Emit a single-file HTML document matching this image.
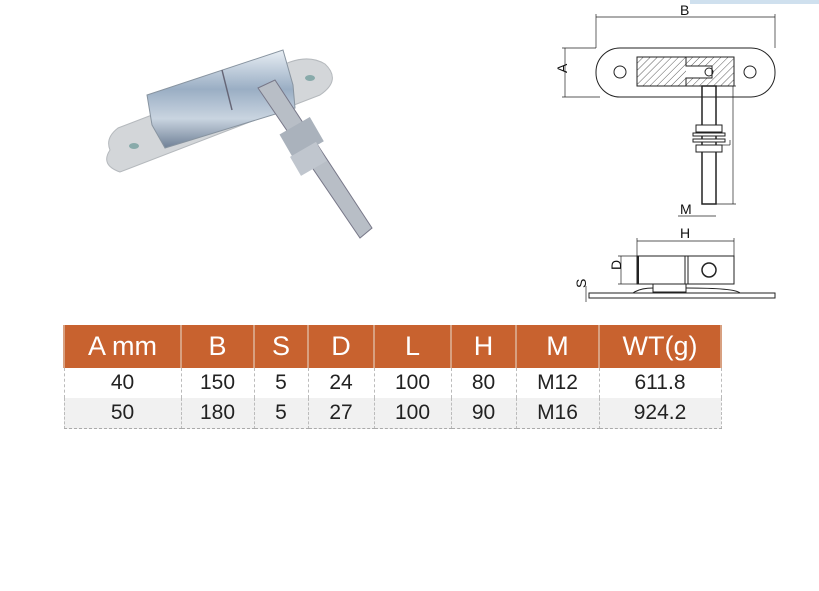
<!DOCTYPE html>
<html><head><meta charset="utf-8"><style>
body{margin:0;width:819px;height:591px;background:#fff;position:relative;overflow:hidden;font-family:"Liberation Sans",sans-serif}
table{position:absolute;left:63px;top:325px;border-collapse:collapse;width:657px;table-layout:fixed}
td,th{text-align:center;padding:0;border-left:1px dashed #bbb;border-right:1px dashed #bbb}
th{background:#c8622f;color:#fff;font-weight:normal;font-size:27px;height:43px;border-left:2px solid #d8a080;border-right:2px solid #d8a080}
td{font-size:21px;color:#222;height:30px}
tr.g td{background:#f1f1f1;border-bottom:1px dashed #aaa}
</style></head><body>
<svg width="819" height="320" style="position:absolute;left:0;top:0">
<defs><pattern id="h" width="5" height="5" patternUnits="userSpaceOnUse" patternTransform="rotate(45)"><line x1="0" y1="0" x2="0" y2="5" stroke="#333" stroke-width="0.8"/></pattern>
<linearGradient id="m" x1="0" y1="0" x2="0" y2="1"><stop offset="0" stop-color="#e8eef4"/><stop offset=".4" stop-color="#9aaec4"/><stop offset=".7" stop-color="#c9d4e0"/><stop offset="1" stop-color="#6f8096"/></linearGradient></defs>
<rect x="690" y="0" width="129" height="4" fill="#cfe0ee"/>
<!-- photo -->
<path d="M110 150 Q100 165 120 172 L320 95 Q342 80 325 64 Q310 55 290 62 L118 128 Q105 138 110 150Z" fill="#d3d6d9" stroke="#b5b9bd"/>
<ellipse cx="134" cy="146" rx="5" ry="3" fill="#8aa"/>
<ellipse cx="310" cy="78" rx="5" ry="3" fill="#8aa"/>
<path d="M147 95 L283 50 L293 85 L295 108 L165 148 L152 125Z" fill="url(#m)" stroke="#8894a0"/>
<line x1="222" y1="70" x2="232" y2="110" stroke="#667" stroke-width="1.5"/>
<path d="M258 88 L275 80 L372 228 L360 238Z" fill="#b8bec6" stroke="#778"/>
<rect x="285" y="125" width="35" height="28" fill="#aab2bc" transform="rotate(-30 300 140)"/>
<rect x="293" y="148" width="30" height="22" fill="#c0c6ce" transform="rotate(-30 308 158)"/>
<!-- top view -->
<g fill="none" stroke="#222" stroke-width="1">
<rect x="596" y="48" width="179" height="49" rx="24"/>
<circle cx="620" cy="72" r="6"/><circle cx="750" cy="72" r="6"/>
<rect x="637" y="57" width="97" height="29" fill="url(#h)"/>
<path d="M686 57 V66 H712 V78 H686 V86" fill="#fff"/>
<circle cx="709" cy="72" r="4"/>
<line x1="596" y1="17" x2="775" y2="17" stroke-width=".7"/>
<line x1="596" y1="14" x2="596" y2="48" stroke-width=".7"/><line x1="775" y1="14" x2="775" y2="48" stroke-width=".7"/>
<line x1="565" y1="48" x2="565" y2="97" stroke-width=".7"/>
<line x1="562" y1="48" x2="596" y2="48" stroke-width=".7"/><line x1="562" y1="97" x2="600" y2="97" stroke-width=".7"/>
<rect x="702" y="86" width="14" height="118" stroke-width="1.5"/>
<rect x="696" y="125" width="26" height="7" fill="#fff"/>
<rect x="693" y="133" width="32" height="3" fill="#fff"/>
<rect x="693" y="139" width="32" height="3" fill="#fff"/>
<rect x="696" y="145" width="26" height="7" fill="#fff"/>
<line x1="733" y1="86" x2="733" y2="204" stroke-width=".7"/>
<line x1="716" y1="86" x2="736" y2="86" stroke-width=".7"/><line x1="716" y1="204" x2="736" y2="204" stroke-width=".7"/>
<line x1="722" y1="145" x2="730" y2="145" stroke-width=".7"/><line x1="730" y1="140" x2="730" y2="145" stroke-width=".7"/>
<line x1="678" y1="216" x2="716" y2="216" stroke-width=".7"/>
<!-- side view -->
<line x1="637" y1="241" x2="734" y2="241" stroke-width=".7"/>
<line x1="637" y1="238" x2="637" y2="256" stroke-width=".7"/><line x1="734" y1="238" x2="734" y2="256" stroke-width=".7"/>
<rect x="637" y="256" width="97" height="28"/>
<line x1="638" y1="256" x2="638" y2="284" stroke-width="2"/>
<line x1="685" y1="256" x2="685" y2="284"/><line x1="688" y1="256" x2="688" y2="284"/>
<circle cx="709" cy="270" r="7" stroke-width="1.5"/>
<line x1="621" y1="256" x2="621" y2="284" stroke-width=".7"/>
<line x1="618" y1="256" x2="637" y2="256" stroke-width=".7"/><line x1="618" y1="284" x2="637" y2="284" stroke-width=".7"/>
<rect x="653" y="284" width="33" height="8"/>
<path d="M633 293 Q640 288 653 288 M686 288 Q735 288 740 293"/>
<rect x="589" y="293" width="186" height="5"/>
<line x1="586" y1="286" x2="586" y2="302" stroke-width=".7"/>
</g>
<g font-size="14" fill="#111" font-family="Liberation Sans">
<text x="680" y="15">B</text>
<text x="562" y="78" transform="rotate(-90 562 73)">A</text>
<text x="680" y="214">M</text>
<text x="680" y="238">H</text>
<text x="616" y="275" transform="rotate(-90 616 270)">D</text>
<text x="580" y="294" transform="rotate(-90 580 288)">S</text>
</g>
</svg>
<table>
<colgroup><col style="width:117px"><col style="width:73px"><col style="width:54px"><col style="width:66px"><col style="width:77px"><col style="width:65px"><col style="width:83px"><col style="width:122px"></colgroup>
<tr><th>A mm</th><th>B</th><th>S</th><th>D</th><th>L</th><th>H</th><th>M</th><th>WT(g)</th></tr>
<tr><td>40</td><td>150</td><td>5</td><td>24</td><td>100</td><td>80</td><td>M12</td><td>611.8</td></tr>
<tr class="g"><td>50</td><td>180</td><td>5</td><td>27</td><td>100</td><td>90</td><td>M16</td><td>924.2</td></tr>
</table>
</body></html>
